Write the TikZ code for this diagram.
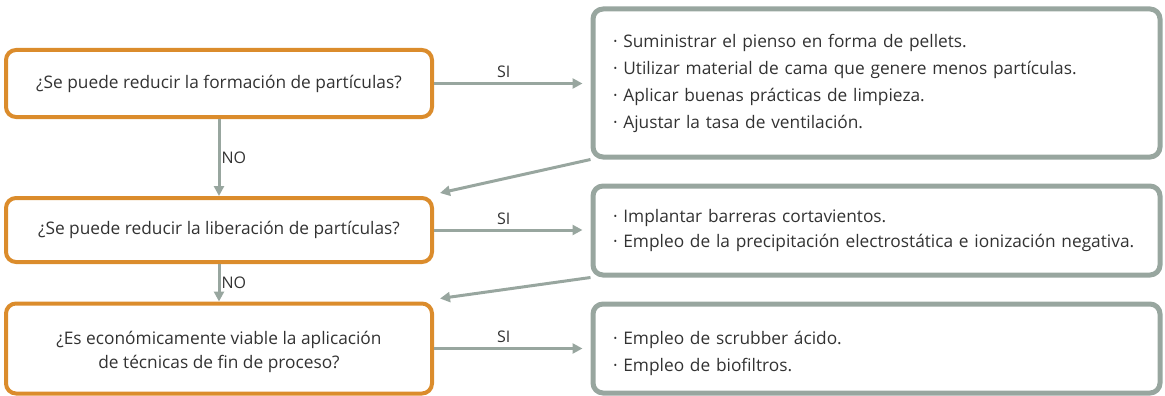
\documentclass[tikz,border=0pt]{standalone}
\usepackage{fontspec}
\setmainfont{Open Sans}
\usepackage{tikz}
\usetikzlibrary{positioning,calc,arrows.meta}
\definecolor{qorange}{RGB}{219,140,44}
\definecolor{rgrey}{RGB}{152,166,159}
\definecolor{txtgrey}{RGB}{50,50,50}
\tikzset{question/.style={draw=qorange, line width=4pt, rounded corners=10pt, minimum width=426pt, align=center, text=txtgrey, font=\fontsize{17.3}{24}\selectfont}}
\tikzset{result/.style={draw=rgrey, line width=5pt, rounded corners=10pt, minimum height=89pt, inner xsep=20pt, text width=527pt, align=left, text=txtgrey, font=\fontsize{17.3}{27}\selectfont}}
\tikzset{arr/.style={draw=rgrey, line width=3pt, -{Triangle[length=10pt,width=10pt]}}}
\tikzset{lbl/.style={text=txtgrey, font=\fontsize{16}{18}\selectfont, inner sep=2pt}}

\begin{document}
\begin{tikzpicture}[x=1pt,y=-1pt]
		\useasboundingbox (0,0) rectangle (1165,396);
		% questions
		\node[question, minimum height=67pt] (Q1) at (219,83.5) {¿Se puede reducir la formación de partículas?};
		\node[question, minimum height=64pt] (Q2) at (219,230) {¿Se puede reducir la liberación de partículas?};
		\node[question, minimum height=90pt] (Q3) at (219,348.5) {\rule{0pt}{21pt}¿Es económicamente viable la aplicación\\de técnicas de fin de proceso?};
		% measures
		\node[result, minimum height=148pt] (R1) at (876.5,83) {· Suministrar el pienso en forma de pellets.\\
			· Utilizar material de cama que genere menos partículas.\\
			· Aplicar buenas prácticas de limpieza.\\
			· Ajustar la tasa de ventilación.};
		\node[result] (R2) at (876.5,230.5) {· Implantar barreras cortavientos.\\[-2pt]
			· Empleo de la precipitación electrostática e ionización negativa.};
		\node[result] (R3) at (876.5,348.5) {\rule{0pt}{23pt}· Empleo de scrubber ácido.\\
			· Empleo de biofiltros.};
		\coordinate (in2) at ($(Q2.north east)+(6,-3)$);
		\coordinate (in3) at ($(Q3.north east)+(6,-3)$);
		% yes
		\draw[arr] (Q1) -- node[lbl, above=2pt, pos=0.47] {SI} ($(R1.west |- Q1.east)+(-8,0)$);
		\draw[arr] (Q2) -- node[lbl, above=2pt, pos=0.47] {SI} ($(R2.west |- Q2.east)+(-8,0)$);
		\draw[arr] (Q3) -- node[lbl, above=2pt, pos=0.47] {SI} ($(R3.west |- Q3.east)+(-8,0)$);
		% no
		\draw[arr] (Q1) -- node[lbl, right, inner sep=1pt] {NO} (Q2);
		\draw[arr] (Q2) -- node[lbl, right, inner sep=1pt] {NO} (Q3);
		% back
		\draw[arr] (R1.south west) -- (in2);
		\draw[arr] (R2.south west) -- (in3);
	\end{tikzpicture}
\end{document}
